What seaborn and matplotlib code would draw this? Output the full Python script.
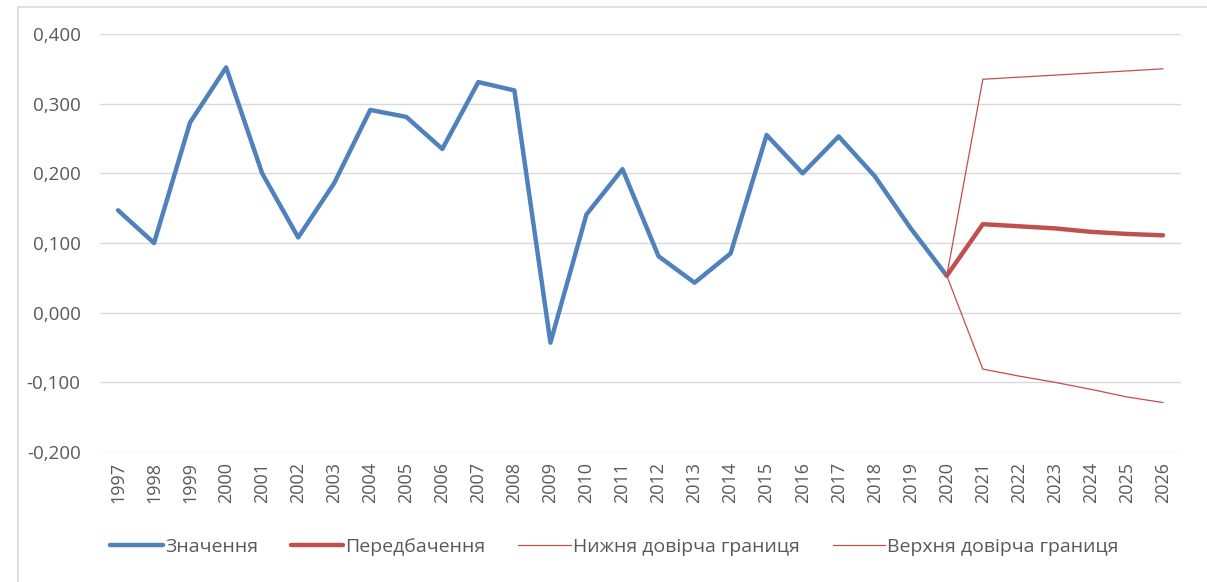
import numpy as np
import pandas as pd
import matplotlib
matplotlib.use("Agg")
import matplotlib.pyplot as plt
import seaborn as sns
from matplotlib.ticker import FuncFormatter
from matplotlib.lines import Line2D
from matplotlib.patches import Rectangle

# ---- data ----
years = list(range(1997, 2027))
actual_years = list(range(1997, 2021))
actual_values = [0.147, 0.100, 0.273, 0.352, 0.200, 0.108, 0.186, 0.291, 0.281, 0.235,
                 0.331, 0.319, -0.043, 0.141, 0.206, 0.081, 0.043, 0.085, 0.255, 0.200,
                 0.253, 0.196, 0.121, 0.053]
forecast_years = list(range(2020, 2027))
forecast_values = [0.053, 0.127, 0.124, 0.121, 0.116, 0.113, 0.111]
lower_values = [0.053, 0.335, 0.338, 0.341, 0.344, 0.347, 0.350]
upper_values = [0.053, -0.081, -0.091, -0.100, -0.110, -0.121, -0.129]
labels = ["Значення", "Передбачення", "Нижня довірча границя", "Верхня довірча границя"]

blue = "#4F81BD"
red = "#C0504D"
text_col = "#595959"

sns.set_style("white")
plt.rcParams["font.family"] = ["Open Sans", "DejaVu Sans"]

fig = plt.figure(figsize=(12.07, 5.82), dpi=100)
ax = fig.add_axes([100 / 1207, 1 - 452 / 582, 1081 / 1207, 418 / 582])

sns.lineplot(x=actual_years, y=actual_values, ax=ax, color=blue, linewidth=3.2, zorder=3)
sns.lineplot(x=forecast_years, y=forecast_values, ax=ax, color=red, linewidth=3.2, zorder=4)
sns.lineplot(x=forecast_years, y=lower_values, ax=ax, color=red, linewidth=0.9, zorder=2)
sns.lineplot(x=forecast_years, y=upper_values, ax=ax, color=red, linewidth=0.9, zorder=2)

ax.set_xlim(1996.5, 2026.5)
ax.set_ylim(-0.2, 0.4)
ax.set_yticks(np.arange(-0.2, 0.41, 0.1))
ax.yaxis.set_major_formatter(FuncFormatter(lambda v, p: f"{v:.3f}".replace(".", ",").replace("-0,000", "0,000")))
ax.set_xticks(years)
ax.set_xticklabels([str(y) for y in years], rotation=90)
ax.tick_params(axis="y", length=0, pad=14, labelsize=13.5, labelcolor=text_col)
ax.tick_params(axis="x", length=0, pad=7, labelsize=13, labelcolor=text_col)
ax.grid(axis="y", color="#D9D9D9", linewidth=1)
ax.set_axisbelow(True)
for s in ax.spines.values():
    s.set_visible(False)
ax.set_xlabel("")
ax.set_ylabel("")

handles = [Line2D([], [], color=blue, linewidth=3.2),
           Line2D([], [], color=red, linewidth=3.2),
           Line2D([], [], color=red, linewidth=0.9),
           Line2D([], [], color=red, linewidth=0.9)]
fig.legend(handles, labels, loc="center", bbox_to_anchor=(0.509, 1 - 547 / 582), ncol=4,
           frameon=False, fontsize=14, labelcolor=text_col, handlelength=2.7,
           handletextpad=0.1, columnspacing=1.7)

# chart border
fig.patches.append(Rectangle((18 / 1207, -0.05), 1.1, 1 - 7 / 582 + 0.05,
                             transform=fig.transFigure, fill=False,
                             edgecolor="#D9D9D9", linewidth=1.2))

fig.savefig("out.png", dpi=100)
